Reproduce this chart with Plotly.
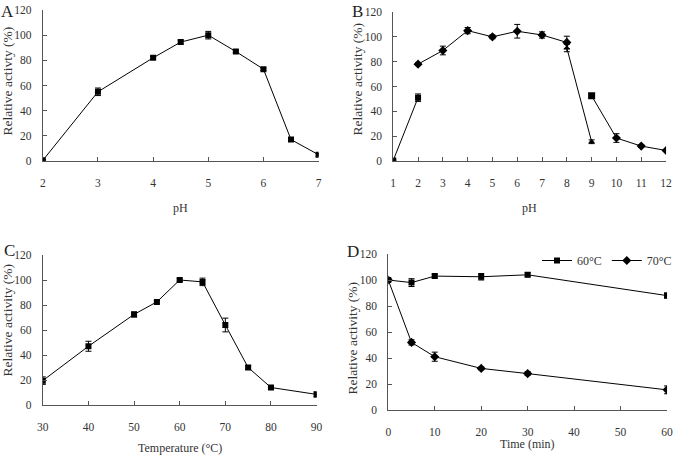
import plotly.graph_objects as go

# --- Datos ---
# A: pH óptimo
ph_a = [2, 3, 4, 4.5, 5, 5.5, 6, 6.5, 7]
act_a = [0.5, 55, 82, 94.5, 100, 87, 73, 17, 5]
err_a = [0.5, 3, 1, 1.5, 3, 1, 1, 1, 1]

# B: estabilidad al pH (cuatro tampones)
ph_b1 = [1, 2]
act_b1 = [0.5, 51]
err_b1 = [0.5, 3]
ph_b2 = [2, 3, 4, 5, 6, 7, 8]
act_b2 = [78, 89, 105, 100, 104.5, 101.5, 95.5]
err_b2 = [1, 3.5, 2.5, 1.5, 5.5, 2.5, 5]
ph_b3 = [8, 9]
act_b3 = [91, 15.5]
err_b3 = [3, 1.5]
ph_b4 = [9, 10, 11, 12]
act_b4 = [52.5, 18.5, 12, 8.5]
err_b4 = [1.5, 3.5, 1, 0.5]

# C: temperatura óptima
temp_c = [30, 40, 50, 55, 60, 65, 70, 75, 80, 90]
act_c = [19.5, 47, 72.5, 82.5, 100, 98.5, 64, 30, 14, 8.5]
err_c = [3, 4, 2, 1, 1, 3, 5.5, 1.5, 1, 2]

# D: termoestabilidad
time_d = [0, 5, 10, 20, 30, 60]
act_60 = [100, 98, 103, 102.5, 104, 88]
err_60 = [1, 3, 1.5, 2.5, 1.5, 2]
act_70 = [100, 52, 41, 32, 28, 15.5]
err_70 = [1, 2, 3.5, 1, 1.5, 3]

FONT = "Liberation Serif, Times New Roman, serif"
W, H = 677, 462
AX_COLOR = "#555555"


def px_x(v):
    return v / W


def px_y(v):
    return 1 - v / H


fig = go.Figure()


def add_serie(x, y, err, xa, ya, symbol, name=None, legend=False, size=6):
    fig.add_trace(go.Scatter(
        x=x, y=y, xaxis=xa, yaxis=ya, name=name, showlegend=legend,
        mode="lines+markers",
        line=dict(color="black", width=1),
        marker=dict(symbol=symbol, size=size, color="black"),
        error_y=dict(type="data", array=err, color="black", thickness=1, width=3),
    ))


add_serie(ph_a, act_a, err_a, "x", "y", "square")
add_serie(ph_b1, act_b1, err_b1, "x2", "y2", "square")
add_serie(ph_b2, act_b2, err_b2, "x2", "y2", "diamond", size=7)
add_serie(ph_b3, act_b3, err_b3, "x2", "y2", "triangle-up")
add_serie(ph_b4, act_b4, err_b4, "x2", "y2", ["square", "diamond", "diamond", "diamond"], size=7)
add_serie(temp_c, act_c, err_c, "x3", "y3", "square")
add_serie(time_d, act_60, err_60, "x4", "y4", "square", name="60°C", legend=True)
add_serie(time_d, act_70, err_70, "x4", "y4", "diamond", name="70°C", legend=True, size=7)

ejes_x = dict(showline=True, linecolor=AX_COLOR, linewidth=1, ticks="inside", ticklen=4,
              tickcolor=AX_COLOR, showgrid=False, zeroline=False, ticklabelstandoff=11,
              automargin=False, tickfont=dict(family=FONT, size=11.5, color="#333"))
ejes_y = dict(showline=True, linecolor=AX_COLOR, linewidth=1, ticks="inside", ticklen=4,
              tickcolor=AX_COLOR, showgrid=False, zeroline=False, range=[0, 120], dtick=20,
              ticklabelstandoff=8, automargin=False,
              tickfont=dict(family=FONT, size=11.5, color="#333"))

# dominios en píxeles: (izq, der, arriba, abajo)
paneles = {
    "": (43, 320, 10, 161),
    "2": (395, 669, 12, 161),
    "3": (43, 318, 255, 405),
    "4": (390, 670, 254, 410),
}
rangos_x = {"": ([2, 7], 1), "2": ([1, 12], 1), "3": ([30, 90], 10), "4": ([0, 60], 10)}

layout = {}
for k, (l, r, t, b) in paneles.items():
    layout["xaxis" + k] = dict(ejes_x, domain=[px_x(l), px_x(r)], range=rangos_x[k][0],
                               dtick=rangos_x[k][1], anchor="y" + k)
    layout["yaxis" + k] = dict(ejes_y, domain=[px_y(b), px_y(t)], anchor="x" + k)

fig.update_layout(**layout)

# Títulos de ejes y etiquetas de panel (centrados en píxeles)
textos = [
    ("pH", 181, 208, 0, 12), ("pH", 532, 208, 0, 12),
    ("Temperature (°C)", 181, 448, 0, 12), ("Time (min)", 530, 444, 0, 12),
    ("Relative activty (%)", 7.5, 81, -90, 13.5), ("Relative activity (%)", 359, 79, -90, 13.5),
    ("Relative activity (%)", 7.5, 320, -90, 13.5), ("Relative activity (%)", 354, 338, -90, 13.5),
]
for txt, x, y, ang, sz in textos:
    fig.add_annotation(text=txt, x=px_x(x), y=px_y(y), xref="paper", yref="paper",
                       xanchor="center", yanchor="middle", showarrow=False, textangle=ang,
                       font=dict(family=FONT, size=sz, color="#333"))

for letra, x, y in [("A", 8, 11), ("B", 359, 11), ("C", 10, 250), ("D", 355, 251)]:
    fig.add_annotation(text=letra, x=px_x(x), y=px_y(y), xref="paper", yref="paper",
                       xanchor="center", yanchor="middle", showarrow=False,
                       font=dict(family=FONT, size=17, color="#222"))

fig.update_layout(
    width=W, height=H,
    margin=dict(l=0, r=0, t=0, b=0),
    plot_bgcolor="white", paper_bgcolor="white",
    legend=dict(orientation="h", x=px_x(680), y=px_y(246), xanchor="right", yanchor="top",
                font=dict(family=FONT, size=12, color="#333"), bgcolor="rgba(0,0,0,0)",
                itemwidth=30, tracegroupgap=0),
)

fig.write_html("out.html", config={"displayModeBar": False},
               post_script="document.body.style.margin='0px';")
